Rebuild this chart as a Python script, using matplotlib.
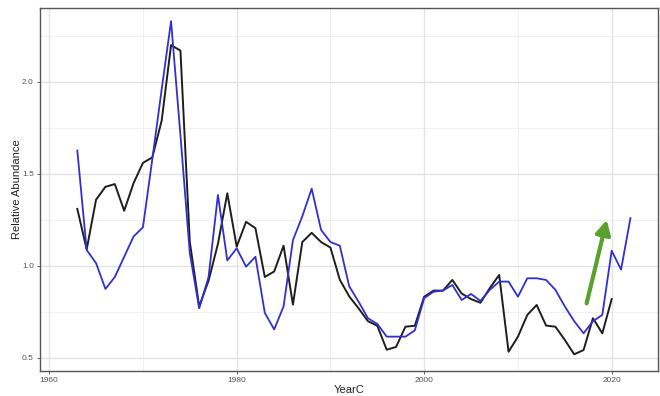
import matplotlib
matplotlib.use("Agg")
import matplotlib.pyplot as plt
import numpy as np

plt.rcParams['font.family'] = ['Liberation Sans', 'DejaVu Sans']

years_black = list(range(1963, 2021))
black_vals = [1.31, 1.09, 1.36, 1.43, 1.445, 1.30, 1.45, 1.56, 1.59, 1.79,
              2.20, 2.17, 1.13, 0.78, 0.92, 1.12, 1.395, 1.105, 1.24, 1.205,
              0.94, 0.97, 1.11, 0.79, 1.13, 1.18, 1.13, 1.10, 0.925, 0.835,
              0.77, 0.70, 0.675, 0.545, 0.56, 0.67, 0.675, 0.833, 0.866, 0.866,
              0.924, 0.85, 0.82, 0.80, 0.88, 0.951, 0.534, 0.616, 0.734, 0.788,
              0.676, 0.67, 0.598, 0.52, 0.543, 0.716, 0.634, 0.82]

years_blue = list(range(1963, 2023))
blue_vals = [1.627, 1.087, 1.015, 0.875, 0.94, 1.05, 1.16, 1.21, 1.58, 1.96,
             2.33, 1.71, 1.07, 0.77, 0.94, 1.386, 1.03, 1.096, 0.996, 1.05,
             0.745, 0.655, 0.78, 1.14, 1.27, 1.42, 1.196, 1.13, 1.11, 0.89,
             0.806, 0.716, 0.685, 0.616, 0.616, 0.616, 0.65, 0.825, 0.86, 0.866,
             0.897, 0.815, 0.848, 0.81, 0.87, 0.915, 0.915, 0.833, 0.933, 0.933,
             0.924, 0.87, 0.78, 0.70, 0.634, 0.70, 0.734, 1.083, 0.98, 1.26]

x_ticks = [1960, 1980, 2000, 2020]
x_minor = [1970, 1990, 2010]
y_ticks = [0.5, 1.0, 1.5, 2.0]
y_minor = [0.75, 1.25, 1.75, 2.25]

arrow_start = (2017.33, 0.797)
arrow_end = (2019.47, 1.25)

fig = plt.figure(figsize=(6.6, 3.96), dpi=100)
ax = fig.add_axes([40/660, 1 - 370.5/396, (658-40)/660, (370.5-8.3)/396])

ax.set_xlim(1959.02, 2024.94)
ax.set_ylim(0.432, 2.40)

for v in x_minor:
    ax.axvline(v, color='#f0f0f0', lw=0.7, zorder=0)
for v in y_minor:
    ax.axhline(v, color='#f0f0f0', lw=0.7, zorder=0)
for v in x_ticks:
    ax.axvline(v, color='#e3e3e3', lw=1.0, zorder=0)
for v in y_ticks:
    ax.axhline(v, color='#e3e3e3', lw=1.0, zorder=0)

ax.plot(years_blue, blue_vals, color='#3030d2', lw=1.3, zorder=3)
ax.plot(years_black, black_vals, color='#1e1e1e', lw=1.4, zorder=2)

ax.annotate('', xy=arrow_end, xytext=arrow_start,
            arrowprops=dict(arrowstyle='-|>,head_length=0.6,head_width=0.32',
                            lw=3, color='#5aa02c', mutation_scale=14,
                            shrinkA=0, shrinkB=0), zorder=4)

ax.set_xticks(x_ticks)
ax.set_xticklabels([str(v) for v in x_ticks])
ax.set_yticks(y_ticks)
ax.set_yticklabels([f"{v:.1f}" for v in y_ticks])
ax.tick_params(axis='both', length=2.5, width=0.6, color='#444444',
               labelsize=6, labelcolor='#555555', pad=2)

for s in ax.spines.values():
    s.set_color('#555555')
    s.set_linewidth(1.0)

ax.set_xlabel('YearC', fontsize=8, color='#222222', labelpad=1)
ax.set_ylabel('Relative Abundance', fontsize=8, color='#222222', labelpad=0)

fig.savefig('out.png', dpi=100)
